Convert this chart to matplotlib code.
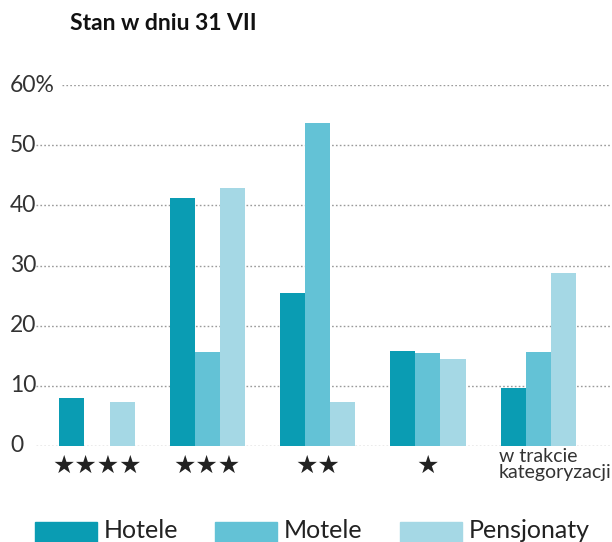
import numpy as np
import matplotlib.pyplot as plt
from matplotlib.patches import Rectangle
from matplotlib.transforms import blended_transform_factory

plt.rcParams['font.family'] = ['Lato', 'DejaVu Sans']

categories = ['★★★★', '★★★', '★★', '★', 'w trakcie\nkategoryzacji']
series = ['Hotele', 'Motele', 'Pensjonaty']
hotele = [8.0, 41.2, 25.4, 15.8, 9.6]
motele = [0.0, 15.6, 53.7, 15.4, 15.6]
pensjonaty = [7.3, 42.9, 7.3, 14.4, 28.7]
yticks = [0, 10, 20, 30, 40, 50, 60]
ytick_labels = ['0', '10', '20', '30', '40', '50', '60%']
colors = ['#0a9cb3', '#63c2d6', '#a5d8e5']

W, H = 612, 542
fig = plt.figure(figsize=(W / 100, H / 100), dpi=100)

# axes: x from 36px to 610px, y0 at 446px, y60 at 85px
ax = fig.add_axes([36 / W, (H - 446) / H, (610 - 36) / W, (446 - 85) / H])
ax.set_ylim(0, 60)
ax.set_xlim(-0.553, 4.65)

x = np.arange(len(categories))
bw = 0.227
for i, (vals, name) in enumerate(zip([hotele, motele, pensjonaty], series)):
    ax.bar(x + (i - 1) * bw, vals, width=bw, color=colors[i], label=name, zorder=2)

# dotted gridlines; the 60% line starts after its wider label
for t in yticks:
    xmin = (62 - 36) / (610 - 36) if t == 60 else 0
    ax.axhline(t, xmin=xmin, xmax=1, color='#9a9a9a', lw=1.0,
               ls=(0, (1.2, 1.6)), zorder=1)

for s in ax.spines.values():
    s.set_visible(False)
ax.set_xticks([])
ax.set_yticks([])

trans = blended_transform_factory(fig.transFigure, ax.transData)
for t, lab in zip(yticks, ytick_labels):
    ax.text(10 / W, t, lab, transform=trans, ha='left', va='center',
            fontsize=16.5, color='#333333')

# category labels under groups
for xi, cat in zip(x[:4], categories[:4]):
    ax.text(xi, -3.3, cat, ha='center', va='center', fontsize=18,
            color='#222222', family=['DejaVu Sans'], clip_on=False)
ax.text(3.64, -0.4, categories[4], ha='left', va='top', fontsize=14,
        color='#333333', linespacing=0.9, clip_on=False)

fig.text(70 / W, 1 - 23 / H, 'Stan w dniu 31 VII', ha='left', va='center',
         fontsize=16.5, fontweight='bold', color='#111111')

# legend
legend_x = [35, 215, 400]
for lx, name, c in zip(legend_x, series, colors):
    fig.patches.append(Rectangle((lx / W, 0), 62 / W, 20 / H,
                                 transform=fig.transFigure, color=c))
    fig.text((lx + 69) / W, 1 - 530 / H, name, ha='left', va='center',
             fontsize=18, color='#222222')

fig.savefig('out.png', dpi=100)
